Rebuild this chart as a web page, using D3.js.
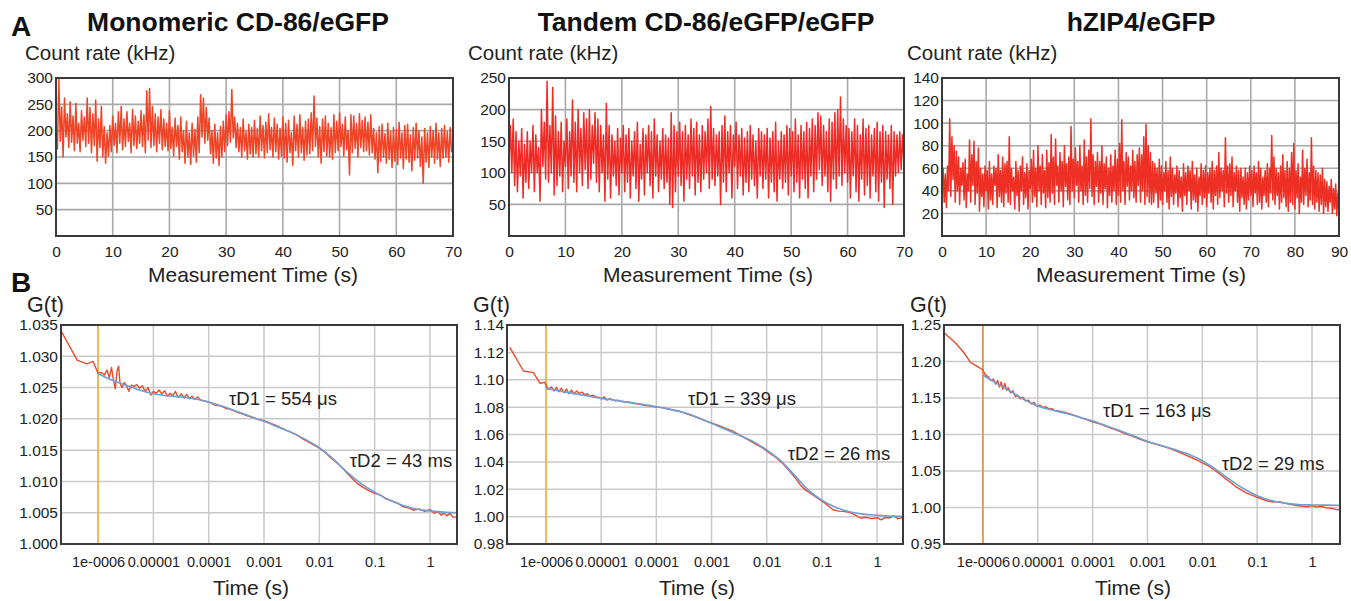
<!DOCTYPE html>
<html>
<head>
<meta charset="utf-8">
<script src="https://cdnjs.cloudflare.com/ajax/libs/d3/7.8.5/d3.min.js"></script>
<style>
  html, body { margin: 0; padding: 0; background: #fff; }
  svg { display: block; font-family: "Liberation Sans", Arial, Helvetica, sans-serif; }
</style>
</head>
<body>
<svg id="chart" width="1351" height="601"></svg>
<script>
// ---------------- DATA ----------------
const titles = ["Monomeric CD-86/eGFP", "Tandem CD-86/eGFP/eGFP", "hZIP4/eGFP"];
const panelLetters = ["A", "B"];

// Count-rate traces (kHz), equally spaced samples over the measurement duration
const durations = [70, 70, 90];
const countTicksX = [[0,10,20,30,40,50,60,70],[0,10,20,30,40,50,60,70],[0,10,20,30,40,50,60,70,80,90]];
const countTicksY = [[50,100,150,200,250,300],[50,100,150,200,250],[20,40,60,80,100,120,140]];
const countMax = [300, 250, 140];

const countMonomeric = [
 210,165,298,180,245,150,262,188,232,168,255,178,228,162,252,176,214,160,238,182,
 226,170,262,176,244,158,232,172,258,142,222,168,246,150,208,138,196,152,210,160,
 228,172,214,158,236,176,246,164,222,170,236,180,214,158,240,172,228,166,218,176,
 238,170,230,158,276,182,280,168,246,172,232,160,226,176,240,164,222,170,214,162,
 238,166,206,152,224,170,210,146,226,160,200,138,218,150,196,136,214,152,202,140,
 226,158,268,188,262,176,244,182,224,156,200,138,212,148,196,134,208,150,218,160,
 230,172,236,178,278,186,226,168,214,160,206,150,222,162,198,146,212,156,206,150,
 220,156,204,150,228,162,210,148,216,158,232,164,206,150,224,160,212,146,204,152,
 226,148,214,140,220,158,196,134,228,162,212,150,230,158,206,144,218,154,222,156,
 234,162,266,170,224,150,208,138,222,160,228,152,214,150,206,146,230,158,218,162,
 234,170,212,152,226,164,200,116,230,158,228,166,214,150,232,168,220,160,226,162,
 216,154,230,158,204,146,196,120,208,142,212,150,194,138,214,146,198,130,206,142,
 202,136,216,148,196,128,210,146,212,140,192,124,206,144,214,148,200,132,188,100,
 204,140,196,130,208,150,200,138,214,146,196,132,204,148,210,150,198,140,206,160,
 170
];
const countTandem = [
 120,175,100,185,80,165,70,150,95,170,60,145,85,165,75,150,100,175,70,160,
 100,140,55,200,110,180,90,245,85,175,100,235,65,190,80,165,95,180,70,150,
 110,185,75,165,95,215,85,180,70,200,100,170,80,195,105,185,75,200,90,175,
 115,195,85,185,70,175,100,160,55,210,90,175,60,160,95,150,80,170,65,155,
 100,175,70,160,85,170,60,150,95,165,75,180,55,145,90,170,65,160,100,175,
 80,165,60,185,95,160,70,150,90,170,75,160,85,155,50,195,45,175,70,165,
 95,180,80,165,55,175,90,160,75,185,95,170,65,180,85,160,70,175,90,165,
 100,185,75,205,90,170,80,160,95,165,50,175,85,190,70,165,100,175,60,160,
 110,180,75,160,95,170,65,155,85,165,70,175,90,160,80,150,60,170,95,165,
 75,160,90,170,60,155,85,165,70,180,55,150,90,165,75,160,85,175,65,170,
 95,165,70,185,85,160,60,175,90,165,75,180,60,170,95,185,70,175,90,195,
 105,190,80,175,95,165,70,185,55,180,90,195,75,200,95,220,80,185,100,175,
 85,170,60,165,95,185,70,175,55,160,90,185,65,170,80,175,60,160,95,170,
 70,180,55,165,85,175,45,165,90,160,75,175,50,165,95,160,100,165,105,160,
 115
];
const countHZIP4 = [
 45,60,30,55,25,62,40,104,35,88,50,80,30,75,40,70,28,60,45,65,
 32,68,25,55,40,85,30,72,45,84,28,66,38,78,22,60,35,55,26,62,
 40,58,24,66,32,55,28,62,45,60,25,72,35,58,30,70,26,64,38,66,
 30,88,28,60,40,52,24,66,36,58,22,62,40,70,28,56,34,64,24,58,
 42,68,30,76,35,60,26,80,40,62,28,72,38,58,25,76,34,65,30,90,
 38,70,28,86,45,62,30,74,40,66,26,80,44,64,32,70,28,97,40,68,
 34,78,45,66,30,80,40,62,28,85,36,70,30,76,42,104,35,72,28,66,
 44,74,30,66,38,80,28,64,42,70,25,60,36,72,30,62,40,76,28,68,
 36,82,30,103,40,66,28,74,44,70,32,62,40,76,34,66,30,72,45,78,
 30,72,40,88,28,99,35,80,30,74,28,66,30,64,38,60,25,68,32,62,
 28,56,40,66,30,58,24,70,35,60,28,54,38,62,26,58,34,52,22,64,
 36,56,28,62,40,58,24,66,32,54,30,60,22,52,36,64,28,58,34,62,
 26,56,38,60,30,66,24,58,36,62,28,74,34,60,40,58,26,87,38,62,
 30,64,36,70,26,56,40,62,30,58,22,60,34,52,28,60,24,56,32,62,
 36,58,26,62,38,56,28,66,30,60,24,52,36,58,30,64,26,60,38,89,
 32,70,28,60,36,56,24,62,30,72,34,58,26,66,22,60,30,74,28,82,
 24,58,34,64,20,52,30,76,28,60,36,68,26,56,32,87,28,62,24,58,
 30,56,22,54,28,60,20,50,26,48,22,44,30,50,20,42,24,46,18,38,
 20
];

// Autocorrelation G(t): measured (red) and fitted (blue); lag times in seconds
const corrTickValues = [1e-6, 1e-5, 1e-4, 1e-3, 1e-2, 1e-1, 1];
const corrTickLabels = ["1e-0006", "0.00001", "0.0001", "0.001", "0.01", "0.1", "1"];
const corrTicksY = [
  [1.000, 1.005, 1.010, 1.015, 1.020, 1.025, 1.030, 1.035],
  [0.98, 1.00, 1.02, 1.04, 1.06, 1.08, 1.10, 1.12, 1.14],
  [0.95, 1.00, 1.05, 1.10, 1.15, 1.20, 1.25]
];
const corrYFormat = [".3f", ".2f", ".2f"];
const corrXDomain = [[2.14e-7, 3.08], [1.96e-7, 2.96], [1.95e-7, 3.24]];
const cursorTime = 1e-6;
const tauD1 = ["τD1 = 554 μs", "τD1 = 339 μs", "τD1 = 163 μs"];
const tauD2 = ["τD2 = 43 ms", "τD2 = 26 ms", "τD2 = 29 ms"];

const lagMonoData = [2.1e-7,4.2e-7,6.3e-7,8.1e-7,1.0e-6,1.15e-6,1.3e-6,1.45e-6,1.6e-6,1.75e-6,1.9e-6,2.05e-6,2.2e-6,2.35e-6,2.5e-6,2.7e-6,3.0e-6,3.3e-6,3.6e-6,4.0e-6,4.5e-6,5.0e-6,5.6e-6,6.3e-6,7.1e-6,8.0e-6,9.0e-6,1.0e-5,1.13e-5,1.27e-5,1.42e-5,1.6e-5,1.8e-5,2.0e-5,2.25e-5,2.5e-5,2.8e-5,3.2e-5,3.6e-5,4.0e-5,4.5e-5,5.0e-5,5.6e-5,6.3e-5,7.1e-5,8.0e-5,1.0e-4,1.3e-4,1.6e-4,2.0e-4,2.5e-4,3.2e-4,4.0e-4,5.0e-4,6.3e-4,8.0e-4,1.0e-3,1.3e-3,1.6e-3,2.0e-3,2.5e-3,3.2e-3,4.0e-3,5.0e-3,6.3e-3,8.0e-3,1.0e-2,1.3e-2,1.6e-2,2.0e-2,2.5e-2,3.2e-2,4.0e-2,5.0e-2,6.3e-2,8.0e-2,0.1,0.13,0.16,0.2,0.25,0.32,0.4,0.5,0.63,0.8,1.0,1.2,1.4,1.6,1.8,2.0,2.3,2.6,3.08];
const gMonoData = [1.0342,1.0294,1.0288,1.0292,1.0273,1.0274,1.0270,1.0278,1.0266,1.0282,1.0262,1.0248,1.0276,1.0284,1.0257,1.0250,1.0258,1.0252,1.0244,1.0254,1.0252,1.0255,1.0249,1.0253,1.0244,1.0250,1.0238,1.0244,1.0241,1.0246,1.0240,1.0245,1.0236,1.0241,1.0237,1.0244,1.0234,1.0240,1.0233,1.0239,1.0232,1.0236,1.0231,1.0235,1.0230,1.0229,1.0227,1.0222,1.0221,1.0217,1.0215,1.0211,1.0208,1.0205,1.0202,1.0199,1.0197,1.0193,1.0190,1.0186,1.0182,1.0178,1.0174,1.0168,1.0163,1.0158,1.0153,1.0146,1.0138,1.0131,1.0123,1.0113,1.0104,1.0096,1.0090,1.0085,1.0081,1.0078,1.0072,1.0069,1.0066,1.0060,1.0058,1.0054,1.0056,1.0052,1.0055,1.0049,1.0052,1.0046,1.0050,1.0045,1.0049,1.0043,1.0043];

const lagFit = [1e-6,1.78e-6,3.16e-6,5.62e-6,1e-5,1.78e-5,3.16e-5,5.62e-5,1e-4,1.78e-4,3.16e-4,5.62e-4,1e-3,1.78e-3,3.16e-3,5.62e-3,1e-2,1.78e-2,3.16e-2,5.62e-2,0.1,0.178,0.316,0.562,1,1.78,3.1];
const gMonoFit = [1.0272,1.0262,1.0254,1.0246,1.0240,1.0237,1.0235,1.0232,1.0227,1.0220,1.0212,1.0204,1.0196,1.0187,1.0178,1.0167,1.0154,1.0136,1.0115,1.0097,1.0083,1.0071,1.0062,1.0056,1.0053,1.0051,1.0050];
const gTandemFit = [1.0938,1.0918,1.0900,1.0882,1.0864,1.0850,1.0835,1.0820,1.0803,1.0783,1.0760,1.0724,1.0682,1.0638,1.0595,1.0550,1.0487,1.0410,1.0305,1.0195,1.0121,1.0068,1.0036,1.0018,1.0010,1.0004,1.0002];
const gHZIP4Fit = [1.1812,1.1700,1.1590,1.1480,1.1390,1.1335,1.1290,1.1240,1.1185,1.1120,1.1050,1.0980,1.0908,1.0850,1.0795,1.0728,1.0640,1.0520,1.0385,1.0260,1.0160,1.0095,1.0060,1.0042,1.0035,1.0032,1.0030];

const lagTandemData = [2.2e-7,3.9e-7,5.9e-7,7.8e-7,9.5e-7,1.1e-6,1.25e-6,1.4e-6,1.55e-6,1.7e-6,1.9e-6,2.1e-6,2.35e-6,2.6e-6,2.9e-6,3.2e-6,3.6e-6,4.0e-6,4.5e-6,5.0e-6,5.6e-6,6.3e-6,7.1e-6,8.0e-6,9.0e-6,1.0e-5,1.13e-5,1.27e-5,1.42e-5,1.6e-5,1.8e-5,2.0e-5,2.5e-5,3.2e-5,4.0e-5,5.0e-5,6.3e-5,8.0e-5,1.0e-4,1.3e-4,1.6e-4,2.0e-4,2.5e-4,3.2e-4,4.0e-4,5.0e-4,6.3e-4,8.0e-4,1.0e-3,1.3e-3,1.6e-3,2.0e-3,2.5e-3,3.2e-3,4.0e-3,5.0e-3,6.3e-3,8.0e-3,1.0e-2,1.3e-2,1.6e-2,2.0e-2,2.5e-2,3.2e-2,4.0e-2,5.0e-2,6.3e-2,8.0e-2,0.1,0.13,0.16,0.2,0.25,0.32,0.4,0.5,0.63,0.8,1.0,1.2,1.4,1.7,2.0,2.4,2.96];
const gTandemData = [1.1237,1.1064,1.1052,1.0974,1.0981,1.0930,1.0948,1.0918,1.0945,1.0912,1.0938,1.0905,1.0932,1.0898,1.0925,1.0896,1.0918,1.0900,1.0910,1.0890,1.0898,1.0880,1.0888,1.0874,1.0872,1.0860,1.0876,1.0852,1.0862,1.0855,1.0845,1.0850,1.0838,1.0836,1.0826,1.0820,1.0812,1.0808,1.0800,1.0796,1.0788,1.0779,1.0772,1.0758,1.0744,1.0730,1.0715,1.0698,1.0684,1.0668,1.0654,1.0638,1.0622,1.0598,1.0575,1.0554,1.0530,1.0508,1.0480,1.0448,1.0420,1.0385,1.0340,1.0290,1.0235,1.0195,1.0170,1.0140,1.0115,1.0080,1.0050,1.0040,1.0038,1.0030,1.0012,0.9990,0.9995,0.9985,0.9992,0.9976,0.9994,0.9990,1.0005,0.9985,0.9994];

const lagHZIP4Data = [2.0e-7,3.2e-7,4.5e-7,6.0e-7,8.0e-7,1.0e-6,1.1e-6,1.25e-6,1.4e-6,1.55e-6,1.7e-6,1.85e-6,2.0e-6,2.15e-6,2.3e-6,2.5e-6,2.7e-6,2.9e-6,3.2e-6,3.5e-6,3.9e-6,4.3e-6,4.8e-6,5.3e-6,6.0e-6,6.8e-6,7.6e-6,8.5e-6,9.5e-6,1.1e-5,1.25e-5,1.4e-5,1.6e-5,1.8e-5,2.0e-5,2.5e-5,3.2e-5,4.0e-5,5.0e-5,6.3e-5,8.0e-5,1.0e-4,1.3e-4,1.6e-4,2.0e-4,2.5e-4,3.2e-4,4.0e-4,5.0e-4,6.3e-4,8.0e-4,1.0e-3,1.3e-3,1.6e-3,2.0e-3,2.5e-3,3.2e-3,4.0e-3,5.0e-3,6.3e-3,8.0e-3,1.0e-2,1.3e-2,1.6e-2,2.0e-2,2.5e-2,3.2e-2,4.0e-2,5.0e-2,6.3e-2,8.0e-2,0.1,0.13,0.16,0.2,0.25,0.32,0.4,0.5,0.63,0.8,1.0,1.2,1.5,1.8,2.2,2.7,3.24];
const gHZIP4Data = [1.2386,1.2250,1.2120,1.1984,1.1930,1.1884,1.1820,1.1790,1.1740,1.1760,1.1690,1.1740,1.1650,1.1720,1.1620,1.1700,1.1610,1.1640,1.1570,1.1600,1.1520,1.1540,1.1490,1.1510,1.1460,1.1470,1.1420,1.1440,1.1390,1.1400,1.1370,1.1380,1.1350,1.1355,1.1330,1.1320,1.1300,1.1280,1.1255,1.1225,1.1200,1.1175,1.1150,1.1125,1.1095,1.1070,1.1040,1.1010,1.0985,1.0955,1.0925,1.0900,1.0875,1.0855,1.0835,1.0810,1.0780,1.0750,1.0718,1.0685,1.0650,1.0612,1.0570,1.0520,1.0470,1.0410,1.0350,1.0290,1.0245,1.0200,1.0170,1.0140,1.0110,1.0085,1.0075,1.0080,1.0060,1.0045,1.0030,1.0020,1.0010,1.0025,1.0005,1.0015,0.9995,0.9990,0.9975,0.9965];

// ---------------- LAYOUT ----------------
const svg = d3.select("#chart");
const FONT = '"Liberation Sans", Arial, Helvetica, sans-serif';
const topFrames = [
  {x0: 56, x1: 453, y0: 78, y1: 236, title: 238, ylab: 25, xlab: 253},
  {x0: 509, x1: 904, y0: 78, y1: 236, title: 706, ylab: 468, xlab: 708},
  {x0: 942, x1: 1339, y0: 78, y1: 236, title: 1141, ylab: 907, xlab: 1141}
];
const botFrames = [
  {x0: 61, x1: 457, y0: 325, y1: 544, glab: 27, xlab: 251, t1: [283, 405], t2: [401, 467]},
  {x0: 507, x1: 903, y0: 325, y1: 544, glab: 473, xlab: 697, t1: [742, 405], t2: [839, 460]},
  {x0: 944, x1: 1340, y0: 325, y1: 544, glab: 910, xlab: 1133, t1: [1157, 417], t2: [1273, 470]}
];
const traces = [countMonomeric, countTandem, countHZIP4];
const traceColors = ["#ef4426", "#ee2b25", "#ee3024"];
const corrData = [[lagMonoData, gMonoData, gMonoFit], [lagTandemData, gTandemData, gTandemFit], [lagHZIP4Data, gHZIP4Data, gHZIP4Fit]];
const cursorColors = ["#f7b030", "#f7b030", "#f08a35"];

// Panel letters
svg.append("text").attr("x", 11).attr("y", 36).attr("font-size", 28).attr("font-weight", "bold").attr("fill", "#111").text(panelLetters[0]);
svg.append("text").attr("x", 11).attr("y", 292).attr("font-size", 28).attr("font-weight", "bold").attr("fill", "#111").text(panelLetters[1]);

// ---------------- TOP: count rate ----------------
topFrames.forEach((f, i) => {
  const vals = traces[i];
  const n = vals.length;
  const x = d3.scaleLinear().domain([0, durations[i]]).range([f.x0, f.x1]);
  const y = d3.scaleLinear().domain([0, countMax[i]]).range([f.y1, f.y0]);
  const g = svg.append("g");

  // title
  g.append("text").attr("x", f.title).attr("y", 31).attr("text-anchor", "middle")
    .attr("font-size", 26.5).attr("font-weight", "bold").attr("fill", "#111").text(titles[i]);
  g.append("text").attr("x", f.ylab).attr("y", 60).attr("font-size", 20.5).attr("fill", "#222").text("Count rate (kHz)");

  // grid
  const grid = g.append("g");
  grid.selectAll("line.v").data(countTicksX[i]).join("line")
    .attr("x1", d => x(d)).attr("x2", d => x(d)).attr("y1", f.y0).attr("y2", f.y1)
    .attr("stroke", "#a9a9a9").attr("stroke-width", 1.6);
  grid.selectAll("line.h").data(countTicksY[i]).join("line")
    .attr("x1", f.x0).attr("x2", f.x1).attr("y1", d => y(d)).attr("y2", d => y(d))
    .attr("stroke", "#a9a9a9").attr("stroke-width", 1.6);

  // trace
  const line = d3.line().x((d, k) => x(k * durations[i] / (n - 1))).y(d => y(d));
  g.append("path").datum(vals).attr("d", line).attr("fill", "none")
    .attr("stroke", traceColors[i]).attr("stroke-width", 1.5).attr("stroke-linejoin", "round");

  // frame
  g.append("rect").attr("x", f.x0).attr("y", f.y0).attr("width", f.x1 - f.x0).attr("height", f.y1 - f.y0)
    .attr("fill", "none").attr("stroke", "#3a3a3a").attr("stroke-width", 2);

  // axes
  const ax = g.append("g").attr("transform", `translate(0,${f.y1})`)
    .call(d3.axisBottom(x).tickValues(countTicksX[i]).tickSize(0).tickPadding(10).tickFormat(d3.format("d")));
  ax.select(".domain").remove();
  ax.selectAll("text").attr("font-size", 15.5).attr("fill", "#222").attr("font-family", FONT);
  const ay = g.append("g").attr("transform", `translate(${f.x0},0)`)
    .call(d3.axisLeft(y).tickValues(countTicksY[i]).tickSize(0).tickPadding(3).tickFormat(d3.format("d")));
  ay.select(".domain").remove();
  ay.selectAll("text").attr("font-size", 15.5).attr("fill", "#222").attr("font-family", FONT);

  g.append("text").attr("x", f.xlab).attr("y", 282).attr("text-anchor", "middle")
    .attr("font-size", 21).attr("fill", "#222").text("Measurement Time (s)");
});

// ---------------- BOTTOM: autocorrelation ----------------
botFrames.forEach((f, i) => {
  const [lag, gData, gFit] = corrData[i];
  const ticksY = corrTicksY[i];
  const x = d3.scaleLog().domain(corrXDomain[i]).range([f.x0, f.x1]);
  const y = d3.scaleLinear().domain([ticksY[0], ticksY[ticksY.length - 1]]).range([f.y1, f.y0]);
  const g = svg.append("g");

  g.append("text").attr("x", f.glab).attr("y", 312).attr("font-size", 21.5).attr("fill", "#222").text("G(t)");

  const grid = g.append("g");
  grid.selectAll("line.v").data(corrTickValues).join("line")
    .attr("x1", d => x(d)).attr("x2", d => x(d)).attr("y1", f.y0).attr("y2", f.y1)
    .attr("stroke", "#c9c9c9").attr("stroke-width", 1.5);
  grid.selectAll("line.h").data(ticksY).join("line")
    .attr("x1", f.x0).attr("x2", f.x1).attr("y1", d => y(d)).attr("y2", d => y(d))
    .attr("stroke", "#c9c9c9").attr("stroke-width", 1.5);

  // cursor
  g.append("line").attr("x1", x(cursorTime)).attr("x2", x(cursorTime)).attr("y1", f.y0).attr("y2", f.y1)
    .attr("stroke", cursorColors[i]).attr("stroke-width", 1.5);

  const clipId = "clip" + i;
  g.append("clipPath").attr("id", clipId).append("rect")
    .attr("x", f.x0).attr("y", f.y0).attr("width", f.x1 - f.x0).attr("height", f.y1 - f.y0);

  const lineData = d3.line().x((d, k) => x(lag[k])).y(d => y(d));
  g.append("path").datum(gData).attr("clip-path", `url(#${clipId})`).attr("d", lineData)
    .attr("fill", "none").attr("stroke", "#ea4a2c").attr("stroke-width", 1.4).attr("stroke-linejoin", "round");

  const lineFit = d3.line().curve(d3.curveMonotoneX).x((d, k) => x(lagFit[k])).y(d => y(d));
  g.append("path").datum(gFit).attr("clip-path", `url(#${clipId})`).attr("d", lineFit)
    .attr("fill", "none").attr("stroke", "#6b9fd8").attr("stroke-width", 1.6);

  g.append("rect").attr("x", f.x0).attr("y", f.y0).attr("width", f.x1 - f.x0).attr("height", f.y1 - f.y0)
    .attr("fill", "none").attr("stroke", "#3a3a3a").attr("stroke-width", 2);

  const ax = g.append("g").attr("transform", `translate(0,${f.y1})`)
    .call(d3.axisBottom(x).tickValues(corrTickValues).tickSize(0).tickPadding(13)
      .tickFormat((d, k) => corrTickLabels[k]));
  ax.select(".domain").remove();
  ax.selectAll("text").attr("font-size", 14.5).attr("fill", "#222").attr("font-family", FONT);
  const ay = g.append("g").attr("transform", `translate(${f.x0},0)`)
    .call(d3.axisLeft(y).tickValues(ticksY).tickSize(0).tickPadding(3).tickFormat(d3.format(corrYFormat[i])));
  ay.select(".domain").remove();
  ay.selectAll("text").attr("font-size", 15.5).attr("fill", "#222").attr("font-family", FONT);

  g.append("text").attr("x", f.t1[0]).attr("y", f.t1[1]).attr("text-anchor", "middle")
    .attr("font-size", 18.5).attr("fill", "#222").text(tauD1[i]);
  g.append("text").attr("x", f.t2[0]).attr("y", f.t2[1]).attr("text-anchor", "middle")
    .attr("font-size", 18.5).attr("fill", "#222").text(tauD2[i]);

  g.append("text").attr("x", f.xlab).attr("y", 595).attr("text-anchor", "middle")
    .attr("font-size", 21).attr("fill", "#222").text("Time (s)");
});
</script>
</body>
</html>
